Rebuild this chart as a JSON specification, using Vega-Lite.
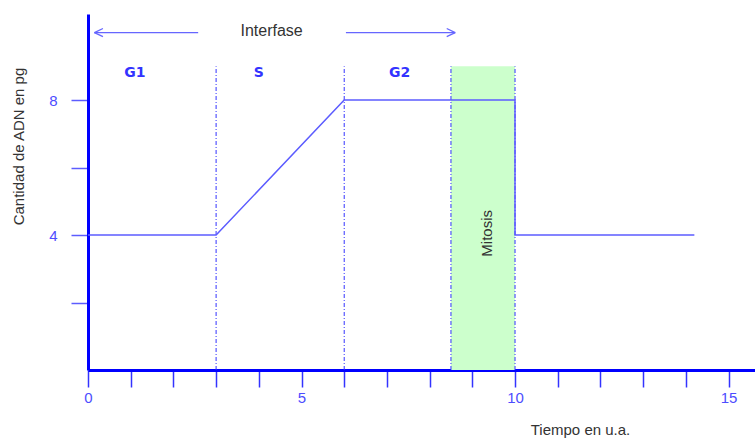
{
  "$schema": "https://vega.github.io/schema/vega-lite/v6.json",
  "width": 667,
  "height": 356,
  "autosize": "none",
  "padding": {"left": 88, "top": 14, "right": 0, "bottom": 71},
  "background": "white",
  "config": {"view": {"stroke": null}, "font": "Liberation Sans"},
  "datasets": {
    "dna": [
      {"t": 0, "adn": 4, "ord": 1},
      {"t": 3, "adn": 4, "ord": 2},
      {"t": 6, "adn": 8, "ord": 3},
      {"t": 10, "adn": 8, "ord": 4},
      {"t": 10, "adn": 4, "ord": 5},
      {"t": 14.2, "adn": 4, "ord": 6}
    ],
    "phases": [{"x": 3}, {"x": 6}, {"x": 8.5}, {"x": 10}],
    "mitosis": [{"x": 8.5, "x2": 10, "y": 0, "y2": 9}],
    "arrows": [
      {"x": 0.15, "x2": 2.58, "y": 10, "y2": 10},
      {"x": 0.15, "x2": 0.35, "y": 10, "y2": 10.12},
      {"x": 0.15, "x2": 0.35, "y": 10, "y2": 9.88},
      {"x": 6.04, "x2": 8.6, "y": 10, "y2": 10},
      {"x": 8.4, "x2": 8.6, "y": 10.12, "y2": 10},
      {"x": 8.4, "x2": 8.6, "y": 9.88, "y2": 10}
    ],
    "phaseLabels": [
      {"x": 1.1, "y": 8.8, "label": "G1"},
      {"x": 4.0, "y": 8.8, "label": "S"},
      {"x": 7.3, "y": 8.8, "label": "G2"}
    ]
  },
  "layer": [
    {
      "data": {"name": "mitosis"},
      "mark": {"type": "rect", "color": "#ccffcc"},
      "encoding": {
        "x": {"field": "x", "type": "quantitative", "scale": {"domain": [0, 15.62], "nice": false, "zero": false},
          "axis": {
            "values": [0,1,2,3,4,5,6,7,8,9,10,11,12,13,14,15],
            "labelExpr": "datum.value % 5 === 0 ? datum.label : ''",
            "grid": false,
            "domainColor": "#0000ff", "domainWidth": 3,
            "tickColor": "#3333ff", "tickSize": 17, "tickWidth": 1.5,
            "labelColor": "#4d4dff", "labelFontSize": 15, "labelPadding": 3,
            "labelFlush": false,
            "title": "Tiempo en u.a.",
            "titleColor": "#333333", "titleFontSize": 15, "titleFontWeight": "normal",
            "titleX": 492, "titleY": 52, "titleBaseline": "top", "titleAnchor": null, "titleAlign": "center"
          }},
        "x2": {"field": "x2"},
        "y": {"field": "y", "type": "quantitative", "scale": {"domain": [0, 10.55], "nice": false},
          "axis": {
            "values": [2, 4, 6, 8],
            "labelExpr": "datum.value === 4 || datum.value === 8 ? datum.label : ''",
            "grid": false,
            "domainColor": "#0000ff", "domainWidth": 3,
            "tickColor": "#5c5cff", "tickSize": 17, "tickWidth": 1.5,
            "labelColor": "#4d4dff", "labelFontSize": 15, "labelPadding": 14,
            "labelFlush": false,
            "title": "Cantidad de ADN  en pg",
            "titleColor": "#333333", "titleFontSize": 15, "titleFontWeight": "normal",
            "titleX": -70, "titleY": 132, "titleAngle": -90, "titleAlign": "center", "titleBaseline": "middle", "titleAnchor": null
          }},
        "y2": {"field": "y2"}
      }
    },
    {
      "data": {"name": "phases"},
      "mark": {"type": "rule", "color": "#3333ff", "strokeWidth": 1, "strokeDash": [4, 2, 1, 2]},
      "encoding": {
        "x": {"field": "x", "type": "quantitative"},
        "y": {"datum": 0},
        "y2": {"datum": 9}
      }
    },
    {
      "data": {"name": "dna"},
      "mark": {"type": "line", "color": "#5c5cff", "strokeWidth": 1.5},
      "encoding": {
        "x": {"field": "t", "type": "quantitative"},
        "y": {"field": "adn", "type": "quantitative"},
        "order": {"field": "ord"}
      }
    },
    {
      "data": {"name": "arrows"},
      "mark": {"type": "rule", "color": "#6666ff", "strokeWidth": 1.3},
      "encoding": {
        "x": {"field": "x", "type": "quantitative"},
        "x2": {"field": "x2"},
        "y": {"field": "y", "type": "quantitative"},
        "y2": {"field": "y2"}
      }
    },
    {
      "data": {"values": [{"x": 4.3, "y": 10.05, "label": "Interfase"}]},
      "mark": {"type": "text", "color": "#333333", "fontSize": 16, "align": "center", "baseline": "middle"},
      "encoding": {
        "x": {"field": "x", "type": "quantitative"},
        "y": {"field": "y", "type": "quantitative"},
        "text": {"field": "label"}
      }
    },
    {
      "data": {"name": "phaseLabels"},
      "mark": {"type": "text", "color": "#3333ff", "fontSize": 14, "fontWeight": "bold", "font": "DejaVu Sans", "align": "center", "baseline": "middle"},
      "encoding": {
        "x": {"field": "x", "type": "quantitative"},
        "y": {"field": "y", "type": "quantitative"},
        "text": {"field": "label"}
      }
    },
    {
      "data": {"values": [{"x": 9.35, "y": 4.05, "label": "Mitosis"}]},
      "mark": {"type": "text", "color": "#333333", "fontSize": 15, "angle": 270, "align": "center", "baseline": "middle"},
      "encoding": {
        "x": {"field": "x", "type": "quantitative"},
        "y": {"field": "y", "type": "quantitative"},
        "text": {"field": "label"}
      }
    }
  ]
}
